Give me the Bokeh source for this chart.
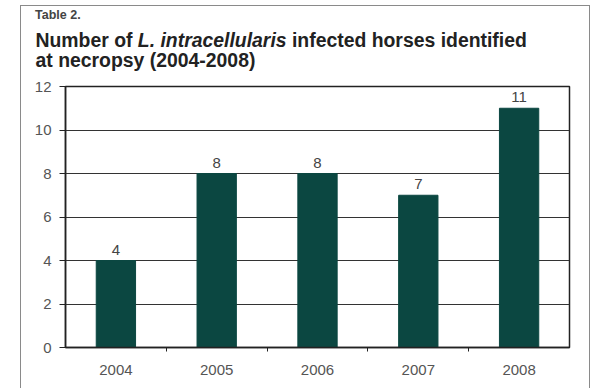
from bokeh.plotting import figure
from bokeh.models import Range1d, FixedTicker, ColumnDataSource, LabelSet, Div
from bokeh.layouts import column
from bokeh.core.properties import value
from bokeh.embed import file_html
from bokeh.resources import INLINE

table_label = "Table 2."
title_pre = "Number of "
title_italic = "L. intracellularis"
title_post = " infected horses identified"
title_line2 = "at necropsy (2004-2008)"
years = ["2004", "2005", "2006", "2007", "2008"]
counts = [4, 8, 8, 7, 11]
y_ticks = [0, 2, 4, 6, 8, 10, 12]

pos = [i + 0.5 for i in range(len(years))]
src = ColumnDataSource(dict(x=pos, top=counts, lab=[str(c) for c in counts]))

FONT = "'Liberation Sans', Arial, sans-serif"
W = 568
head = Div(
    text=(
        f'<div style="position:relative;width:{W}px;height:70px;font-family:{FONT};color:#222;">'
        f'<div style="position:absolute;left:14px;top:3px;font-size:12.5px;line-height:13px;'
        f'font-weight:bold;color:#444;white-space:nowrap;">{table_label}</div>'
        f'<div style="position:absolute;left:14.5px;top:23.5px;font-size:19.4px;line-height:20px;'
        f'font-weight:bold;white-space:nowrap;">{title_pre}<i>{title_italic}</i>{title_post}'
        f'<br>{title_line2}</div></div>'
    ),
    width=W, height=70, margin=0,
)

p = figure(width=W, height=312, output_backend="svg", toolbar_location=None,
           x_range=Range1d(0, len(years)), y_range=Range1d(0, 12),
           min_border_left=44, min_border_right=20, min_border_top=10, min_border_bottom=41,
           margin=0)
p.background_fill_color = "white"
p.border_fill_color = "white"
p.outline_line_color = "#222222"
p.outline_line_width = 1.5

p.vbar(x="x", top="top", width=0.39, source=src, fill_color="#0b4741", line_color="#0b4741")

p.add_layout(LabelSet(x="x", y="top", text="lab", source=src, text_align="center",
                      text_baseline="bottom", y_offset=6, text_font=value("Liberation Sans"),
                      text_font_size=value("15px"), text_color=value("#444444")))

p.xaxis.ticker = FixedTicker(ticks=pos, minor_ticks=[1, 2, 3, 4])
p.xaxis.major_label_overrides = {pp: y for pp, y in zip(pos, years)}
p.xaxis.major_tick_line_color = None
p.xaxis.minor_tick_out = 4
p.xaxis.minor_tick_in = 0
p.xaxis.minor_tick_line_color = "#222222"
p.xaxis.axis_line_color = "#222222"
p.xaxis.axis_line_width = 1.5
p.xaxis.major_label_standoff = 11

p.yaxis.ticker = FixedTicker(ticks=y_ticks)
p.yaxis.major_tick_out = 6
p.yaxis.major_tick_in = 0
p.yaxis.minor_tick_line_color = None
p.yaxis.major_tick_line_color = "#222222"
p.yaxis.axis_line_color = "#222222"
p.yaxis.axis_line_width = 1.5
p.yaxis.major_label_standoff = 8

for ax in (p.xaxis, p.yaxis):
    ax.major_label_text_font = "Liberation Sans"
    ax.major_label_text_font_size = "15px"
    ax.major_label_text_color = "#555555"

p.xgrid.grid_line_color = None
p.ygrid.ticker = FixedTicker(ticks=y_ticks)
p.ygrid.grid_line_color = "#333333"
p.ygrid.grid_line_width = 1.2

layout = column(head, p, margin=(5, 0, 0, 20), spacing=0,
                styles={"border-left": "1.5px solid #8a8a8a",
                        "border-top": "1.5px solid #8a8a8a",
                        "border-right": "1.5px solid #8a8a8a"})

open("out.html", "w").write(file_html(layout, INLINE))
